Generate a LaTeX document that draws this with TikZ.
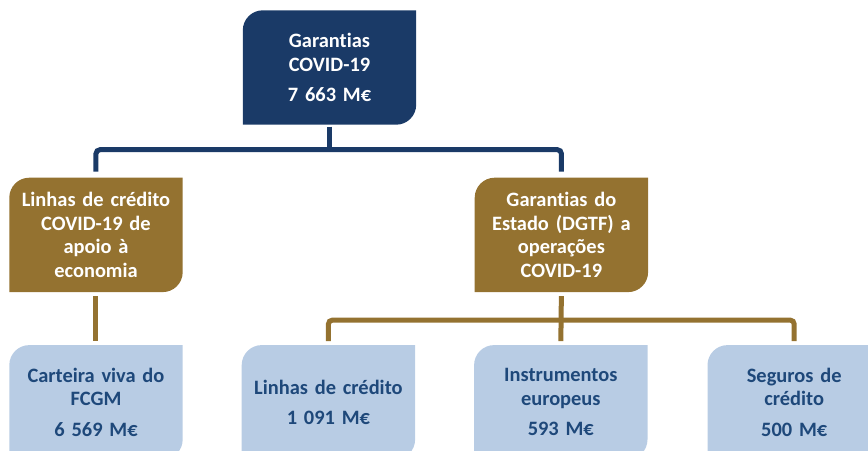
\documentclass[tikz,border=0pt]{standalone}
\usepackage{fontspec}
\setmainfont{Carlito}[Ligatures=NoCommon]
\usepackage{tikz}
\usetikzlibrary{
  positioning,
  calc,
  backgrounds
}
\definecolor{CovidNavy}{RGB}{26,58,103}
\definecolor{LineGold}{RGB}{148,114,48}
\definecolor{SoftBlue}{RGB}{184,204,228}
\definecolor{TextBlue}{RGB}{30,72,122}
\newcommand{\diagfill}[2]{% node, colour
  \fill[#2] (#1.south west) -- ([yshift=-20bp]#1.north west)
    arc[start angle=180,end angle=90,radius=20bp] -- (#1.north east)
    -- ([yshift=20bp]#1.south east)
    arc[start angle=0,end angle=-90,radius=20bp] -- cycle;}
\tikzset{
  box/.style={minimum width=173bp,minimum height=114bp,inner sep=0pt,text width=170bp,align=center,font=\bfseries\fontsize{20.5}{23.5}\selectfont},
  topnode/.style={box,text=white},
  branchnode/.style={box,text=white},
  leafnode/.style={box,text=TextBlue},
  navyline/.style={line width=5bp,draw=CovidNavy,rounded corners=4bp},
  goldline/.style={line width=5bp,draw=LineGold,rounded corners=4bp}
}

\begin{document}
\begin{tikzpicture}[x=1bp,y=1bp,node distance=53bp and 59bp]
\useasboundingbox (0,0) rectangle (868,-451);

\node[topnode] (total) at (329.5,-67.5) {Garantias\\COVID-19\\[7bp]7 663 M€};

\node[branchnode, below=53bp of total, xshift=-233.5bp] (linhas) {Linhas de crédito\\COVID-19 de\\apoio à\\economia};
\node[branchnode, right=292bp of linhas] (estado) {Garantias do\\Estado (DGTF) a\\operações\\COVID-19};

\node[leafnode, below=53bp of linhas] (fcgm) {Carteira viva do\\FCGM\\[7bp]6 569 M€};
\node[leafnode, right=59bp of fcgm] (credito) {Linhas de crédito\\[7bp]1 091 M€};
\node[leafnode, right=59bp of credito] (europeus) {Instrumentos\\europeus\\[7bp]593 M€};
\node[leafnode, right=60bp of europeus] (seguros) {Seguros de\\crédito\\[7bp]500 M€};

\begin{scope}[on background layer]
\diagfill{total}{CovidNavy}
\diagfill{linhas}{LineGold}
\diagfill{estado}{LineGold}
\foreach \n in {fcgm,credito,europeus,seguros}
  \diagfill{\n}{SoftBlue};
\end{scope}

% top level
\path (linhas.north) ++(0,28) coordinate (navybar);
\draw[navyline, shorten <=6bp, shorten >=6bp] (linhas.north) -- (navybar) -| (estado.north);
\draw[navyline, shorten <=2bp] (total.south) -- (total.south |- navybar);

% second level
\path (credito.north) ++(0,25) coordinate (goldbar);
\draw[goldline, shorten <=4bp, shorten >=4bp] (linhas.south) -- (fcgm.north);
\draw[goldline, shorten <=4bp, shorten >=4bp] (credito.north) -- (goldbar) -| (seguros.north);
\draw[goldline, shorten <=4bp, shorten >=4bp] (estado.south) -- (europeus.north);
\end{tikzpicture}
\end{document}
